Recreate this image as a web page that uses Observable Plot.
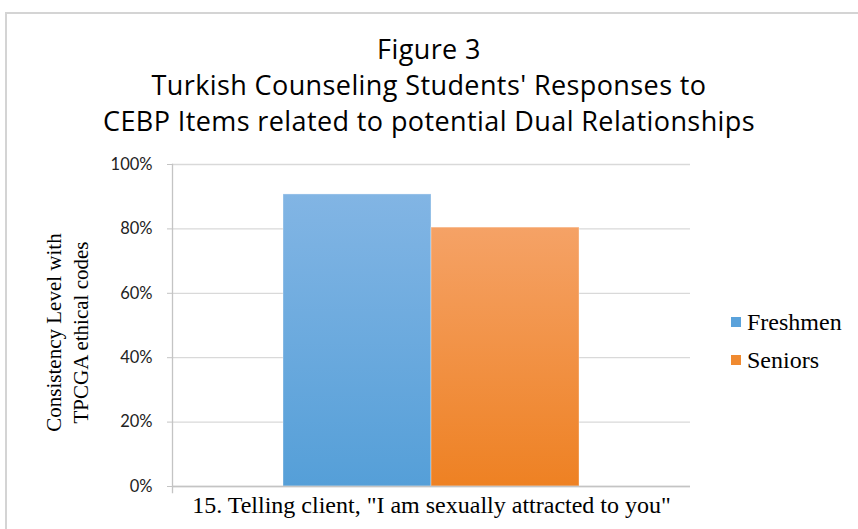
<!DOCTYPE html>
<html><head><meta charset="utf-8">
<script src="https://cdn.jsdelivr.net/npm/d3@7"></script>
<script src="https://cdn.jsdelivr.net/npm/@observablehq/plot@0.6"></script>
<style>
html,body{margin:0;padding:0;background:#fff}
body{width:858px;height:529px;overflow:hidden;position:relative;font-family:Lato,sans-serif}
#frame{position:absolute;left:5px;top:12px;width:900px;height:600px;border:2px solid #d4d4d4;box-sizing:border-box}
#chart{position:absolute;left:0;top:0}
#title{position:absolute;top:31px;left:0;width:858px;text-align:center;font-family:"Open Sans",sans-serif;font-size:27px;letter-spacing:0.4px;line-height:36px;color:#000}
#legend{position:absolute;left:731px;top:303px;font-family:"Liberation Serif","Times New Roman",serif;font-size:24px;color:#000}
.item{display:flex;align-items:center;height:38px}
.sw{width:10px;height:10px;margin-right:6px}
</style></head><body>
<div id="frame"></div>
<div id="chart"></div>
<div id="title"></div>
<div id="legend"></div>
<script>
const titleLines = ["Figure 3", "Turkish Counseling Students' Responses to", "CEBP Items related to potential Dual Relationships"];
const category = '15. Telling client, "I am sexually attracted to you"';
const groups = ["Freshmen", "Seniors"];
const values = [90.7, 80.4];
const yTicks = [0, 20, 40, 60, 80, 100];
const yLabelLines = ["Consistency Level with", "TPCGA ethical codes"];
const gradTop = ["#82b5e4", "#f5a266"];
const gradBottom = ["#559fd8", "#ee8123"];
const swatch = ["#5aa2db", "#f08a30"];

const data = groups.map((g, i) => ({group: g, value: values[i]}));
const gradIds = groups.map((g, i) => "grad" + i);

const defsMark = () => {
  const defs = d3.create("svg:defs");
  groups.forEach((g, i) => {
    const lg = defs.append("linearGradient").attr("id", gradIds[i])
      .attr("x1", 0).attr("y1", 0).attr("x2", 0).attr("y2", 1);
    lg.append("stop").attr("offset", "0%").attr("stop-color", gradTop[i]);
    lg.append("stop").attr("offset", "100%").attr("stop-color", gradBottom[i]);
  });
  return defs.node();
};

const chart = Plot.plot({
  width: 858, height: 529,
  marginLeft: 172, marginRight: 168, marginTop: 164, marginBottom: 43,
  style: {fontFamily: "Lato, sans-serif", fontSize: "16px", background: "none", color: "#222"},
  x: {domain: groups, paddingInner: 0, paddingOuter: 0.75, axis: null},
  y: {domain: [0, 100], axis: null},
  color: {type: "ordinal", domain: groups, range: gradIds.map(id => `url(#${id})`)},
  marks: [
    defsMark,
    Plot.gridY(yTicks, {stroke: "#d9d9d9", strokeOpacity: 1, strokeWidth: 1.3}),
    Plot.barY(data, {x: "group", y: "value", fill: "group", stroke: "#ffffff", strokeOpacity: 0.35, strokeWidth: 1}),
    Plot.ruleY([0], {stroke: "#c4c4c4", strokeWidth: 1.3}),
    Plot.frame({anchor: "left", stroke: "#c4c4c4", strokeWidth: 1.3, insetBottom: -6}),
    Plot.axisY({ticks: yTicks, tickSize: 5, tickPadding: 15, tickFormat: d => d + "%", label: null, stroke: "#c4c4c4", fill: "#222", fontSize: 16.5, style: "letter-spacing:0.8px"}),
    Plot.text([category], {text: d => d, frameAnchor: "bottom", dy: 26, fontFamily: "Liberation Serif, Times New Roman, serif", fontSize: 24, fill: "#000", style: "letter-spacing:0.4px"}),
    Plot.text([yLabelLines.join("\n")], {text: d => d, frameAnchor: "left", textAnchor: "middle", rotate: -90, dx: -107, dy: 7, lineHeight: 1.3, fontFamily: "Liberation Serif, Times New Roman, serif", fontSize: 21, fill: "#000"})
  ]
});
document.getElementById("chart").appendChild(chart);

document.getElementById("title").innerHTML = titleLines.map(t => `<div>${t}</div>`).join("");
document.getElementById("legend").innerHTML = groups.map((g, i) =>
  `<div class="item"><span class="sw" style="background:${swatch[i]}"></span>${g}</div>`).join("");
</script>
</body></html>
